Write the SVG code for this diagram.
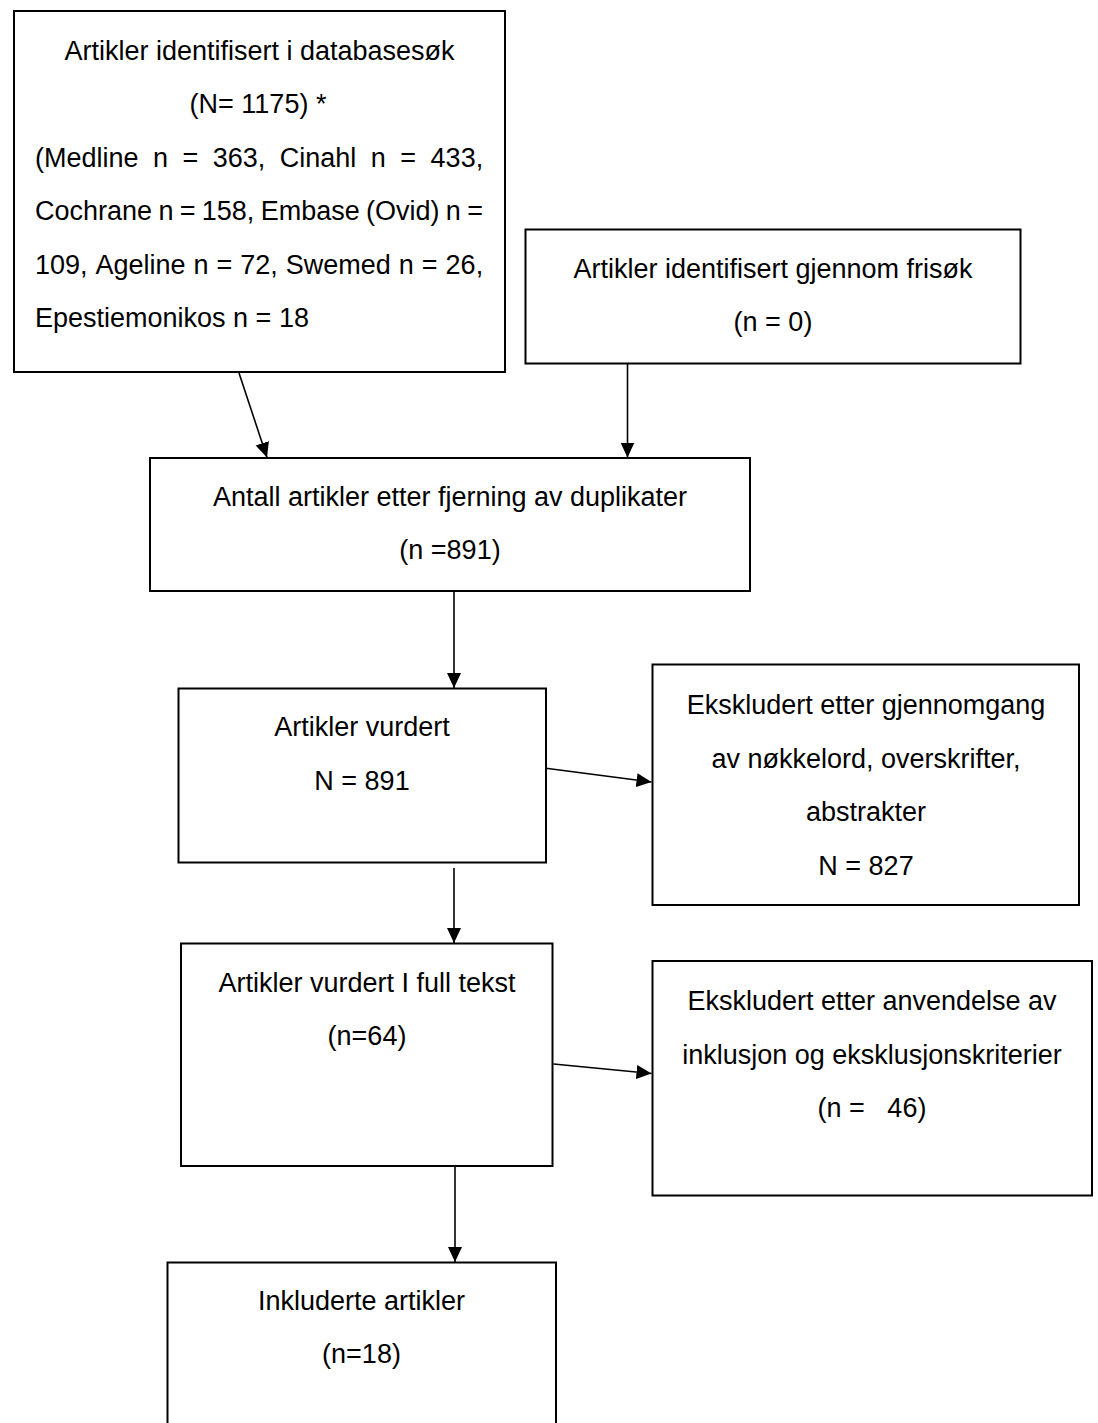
<svg xmlns="http://www.w3.org/2000/svg" width="1098" height="1423" viewBox="0 0 1098 1423">
<style>
.box{fill:#fff;stroke:#000;stroke-width:2}
.t{font-family:"Liberation Sans",Arial,sans-serif;font-size:27px;fill:#000}
.c{text-anchor:middle}
.ln{stroke:#000;stroke-width:1.6;fill:none}
</style>
<defs>
<marker id="ah" markerUnits="userSpaceOnUse" markerWidth="16" markerHeight="15" refX="15" refY="7" orient="auto">
<path d="M0,0 L15,7 L0,14 z" fill="#000"/>
</marker>
</defs>
<rect width="1098" height="1423" fill="#fff"/>
<g id="n1">
<rect class="box" x="14" y="11" width="491" height="361"/>
<text class="t c" x="259.5" y="59.5">Artikler identifisert i databasesøk</text>
<text class="t c" x="258" y="113">(N= 1175) *</text>
<text class="t" y="166.5"><tspan x="35">(Medline</tspan><tspan x="153">n</tspan><tspan x="182.5">=</tspan><tspan x="212.8">363,</tspan><tspan x="279.8">Cinahl</tspan><tspan x="370.8">n</tspan><tspan x="400.3">=</tspan><tspan x="430.6">433,</tspan></text>
<text class="t" y="220"><tspan x="35">Cochrane</tspan><tspan x="158.4">n</tspan><tspan x="179.7">=</tspan><tspan x="201.8">158,</tspan><tspan x="260.7">Embase</tspan><tspan x="366">(Ovid)</tspan><tspan x="445.8">n</tspan><tspan x="467.2">=</tspan></text>
<text class="t" y="273.5"><tspan x="35">109,</tspan><tspan x="95.5">Ageline</tspan><tspan x="193.5">n</tspan><tspan x="216.5">=</tspan><tspan x="240.3">72,</tspan><tspan x="285.8">Swemed</tspan><tspan x="398.8">n</tspan><tspan x="421.8">=</tspan><tspan x="445.6">26,</tspan></text>
<text class="t" x="35" y="327">Epestiemonikos n = 18</text>
</g>
<g id="n2">
<rect class="box" x="525.5" y="229.5" width="495" height="134"/>
<text class="t c" x="773" y="277.5">Artikler identifisert gjennom frisøk</text>
<text class="t c" x="773" y="330.5">(n = 0)</text>
</g>
<g id="n3">
<rect class="box" x="150" y="458" width="600" height="133"/>
<text class="t c" x="450" y="505.5">Antall artikler etter fjerning av duplikater</text>
<text class="t c" x="450" y="558.5">(n =891)</text>
</g>
<g id="n4">
<rect class="box" x="178.5" y="688.5" width="367.5" height="174"/>
<text class="t c" x="362" y="736">Artikler vurdert</text>
<text class="t c" x="362" y="790">N = 891</text>
</g>
<g id="n5">
<rect class="box" x="652.5" y="664.5" width="426.5" height="240.5"/>
<text class="t c" x="866" y="714">Ekskludert etter gjennomgang</text>
<text class="t c" x="866" y="767.5">av nøkkelord, overskrifter,</text>
<text class="t c" x="866" y="821">abstrakter</text>
<text class="t c" x="866" y="874.5">N = 827</text>
</g>
<g id="n6">
<rect class="box" x="181" y="943.5" width="371.5" height="222.5"/>
<text class="t c" x="367" y="991.5">Artikler vurdert I full tekst</text>
<text class="t c" x="367" y="1045">(n=64)</text>
</g>
<g id="n7">
<rect class="box" x="652.5" y="961" width="439.5" height="234.5"/>
<text class="t c" x="872" y="1010">Ekskludert etter anvendelse av</text>
<text class="t c" x="872" y="1063.5">inklusjon og eksklusjonskriterier</text>
<text class="t c" x="872" y="1117" xml:space="preserve">(n =   46)</text>
</g>
<g id="n8">
<rect class="box" x="167.5" y="1262.5" width="388.5" height="200"/>
<text class="t c" x="361.5" y="1310">Inkluderte artikler</text>
<text class="t c" x="361.5" y="1363">(n=18)</text>
</g>
<g id="connectors">
<line class="ln" x1="239" y1="373" x2="267" y2="457.5" marker-end="url(#ah)"/>
<line class="ln" x1="627.5" y1="364" x2="627.5" y2="457.5" marker-end="url(#ah)"/>
<line class="ln" x1="454" y1="592" x2="454" y2="688" marker-end="url(#ah)"/>
<line class="ln" x1="546" y1="768.3" x2="651.5" y2="782" marker-end="url(#ah)"/>
<line class="ln" x1="454" y1="868" x2="454" y2="943" marker-end="url(#ah)"/>
<line class="ln" x1="553.5" y1="1064" x2="651.5" y2="1073.5" marker-end="url(#ah)"/>
<line class="ln" x1="455" y1="1167" x2="455" y2="1262" marker-end="url(#ah)"/>
</g>
</svg>
